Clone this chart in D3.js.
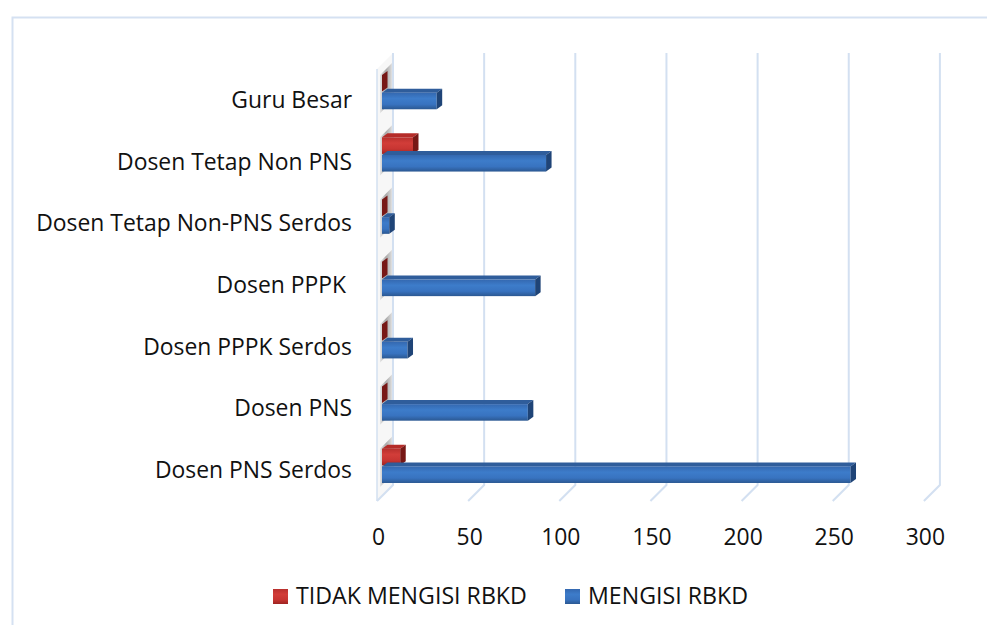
<!DOCTYPE html>
<html>
<head>
<meta charset="utf-8">
<script src="https://cdn.jsdelivr.net/npm/d3@7"></script>
<style>
    body { margin: 0; background: #fff; }
    text { font-family: "Open Sans", "Noto Sans", sans-serif; fill: #111; white-space: pre; }
</style>
</head>
<body>
<div id="chart"></div>
<script>
// categories top -> bottom as shown
var categories = ["Guru Besar", "Dosen Tetap Non PNS", "Dosen Tetap Non-PNS Serdos",
    "Dosen PPPK ", "Dosen PPPK Serdos", "Dosen PNS", "Dosen PNS Serdos"];
var seriesNames = ["TIDAK MENGISI RBKD", "MENGISI RBKD"];
var tidakMengisi = [0, 17, 0, 0, 0, 0, 10];
var mengisi = [30, 90, 4, 84, 14, 80, 257];
var xTicks = [0, 50, 100, 150, 200, 250, 300];

var W = 987, H = 625;

var svg = d3.select("#chart").append("svg")
    .attr("width", W)
    .attr("height", H);

var depth = 16,       // wall depth (front -> back)
    barD = 5,         // bar plane offset from front
    capX = 5.5, capY = 4,
    topY = 53, floorY = 501;

// front plane x scale
var x = d3.scaleLinear().domain([0, 300]).range([377, 377 + 300 * 1.823]);

var y0 = d3.scaleBand().domain(categories).range([61, 497])
    .paddingInner(0.45).paddingOuter(0.225);
var y1 = d3.scaleBand().domain(seriesNames).range([0, y0.bandwidth()]).paddingInner(0.06);
var yLab = d3.scaleBand().domain(categories).range([topY + depth, floorY]);

var defs = svg.append("defs");

function vGrad(id, stops) {
    var g = defs.append("linearGradient").attr("id", id)
        .attr("x1", 0).attr("y1", 0).attr("x2", 0).attr("y2", 1);
    stops.forEach(function (s) {
        g.append("stop").attr("offset", s[0]).attr("stop-color", s[1]);
    });
}
vGrad("blueFront", [[0, "#3468b0"], [0.35, "#3d7cca"], [0.7, "#3873c0"], [1, "#2b5892"]]);
vGrad("redFront", [[0, "#b8302d"], [0.35, "#d23d39"], [0.7, "#c73532"], [1, "#9e2321"]]);

var wallG = defs.append("linearGradient").attr("id", "wallShade")
    .attr("x1", 0).attr("y1", 0).attr("x2", 1).attr("y2", 0);
wallG.append("stop").attr("offset", 0).attr("stop-color", "#e6e6e6");
wallG.append("stop").attr("offset", 0.45).attr("stop-color", "#a9a9a9");
wallG.append("stop").attr("offset", 0.8).attr("stop-color", "#cfcfcf");
wallG.append("stop").attr("offset", 1).attr("stop-color", "#eeeeee");

var colors = {
    "TIDAK MENGISI RBKD": { front: "url(#redFront)", top: "#b52c29", end: "#771816", legend: "url(#redFront)" },
    "MENGISI RBKD": { front: "url(#blueFront)", top: "#2f5d9b", end: "#1f4477", legend: "url(#blueFront)" }
};

// chart border
svg.append("rect")
    .attr("x", 12.5).attr("y", 17.5)
    .attr("width", W).attr("height", H)
    .attr("fill", "none")
    .attr("stroke", "#d5e1f2")
    .attr("stroke-width", 2);

var grid = "#d3e0f1";

// left wall shading, one slanted band per category
var wall = svg.append("g");
wall.append("path")
    .attr("d", "M" + x(0) + "," + (topY + depth) + "L" + (x(0) + depth) + "," + topY +
        "L" + (x(0) + depth) + "," + (floorY - depth) + "L" + x(0) + "," + floorY + "Z")
    .attr("fill", "#f7f7f7");

categories.forEach(function (c) {
    var a = y0(c) + barD - 2, b = y0(c) + y0.bandwidth() + barD + 2;
    wall.append("path")
        .attr("d", "M" + (x(0) + 3) + "," + (b - 3) + "L" + (x(0) + 3) + "," + (a - 3) +
            "L" + (x(0) + depth) + "," + (a - depth) + "L" + (x(0) + depth) + "," + (b - depth) + "Z")
        .attr("fill", "url(#wallShade)");
});

// wall front edge
svg.append("line")
    .attr("x1", x(0)).attr("x2", x(0))
    .attr("y1", topY + depth).attr("y2", floorY)
    .attr("stroke", grid).attr("stroke-width", 1.5);

// gridlines on back wall + floor
svg.append("g").selectAll("path")
    .data(xTicks)
    .enter().append("path")
    .attr("d", function (d) {
        var xb = x(d) + depth;
        return "M" + xb + "," + topY + "L" + xb + "," + (floorY - depth) + "L" + x(d) + "," + floorY;
    })
    .attr("fill", "none")
    .attr("stroke", grid)
    .attr("stroke-width", 2);

// bars
var bars = [];
categories.forEach(function (c, i) {
    bars.push({ cat: c, s: seriesNames[0], v: tidakMengisi[i] });
    bars.push({ cat: c, s: seriesNames[1], v: mengisi[i] });
});

var barG = svg.append("g");
bars.forEach(function (d) {
    var x0 = x(0) + barD, x1 = x(d.v) + barD;
    var t = y0(d.cat) + y1(d.s), b = t + y1.bandwidth();
    var col = colors[d.s];
    var g = barG.append("g");
    g.append("path")
        .attr("d", "M" + x0 + "," + t + "L" + x1 + "," + t + "L" + (x1 + capX) + "," + (t - capY) +
            "L" + (x0 + capX) + "," + (t - capY) + "Z")
        .attr("fill", col.top);
    g.append("rect")
        .attr("x", x0).attr("y", t)
        .attr("width", x1 - x0).attr("height", b - t)
        .attr("fill", col.front);
    g.append("path")
        .attr("d", "M" + x1 + "," + t + "L" + (x1 + capX) + "," + (t - capY) + "L" + (x1 + capX) + "," + (b - capY) +
            "L" + x1 + "," + b + "Z")
        .attr("fill", col.end);
});

// category labels
var labs = svg.append("g").selectAll("text")
    .data(categories)
    .enter().append("text")
    .attr("x", 352)
    .attr("y", function (d) { return yLab(d) + yLab.bandwidth() / 2; })
    .attr("dy", "0.35em")
    .attr("text-anchor", "end")
    .style("font-size", "20px")
    .text(function (d) { return d; });

// fit label size to the reference width of the longest label
var longest = labs.filter(function (d) { return d == "Dosen Tetap Non-PNS Serdos"; }).node();
var labSize = 20 * 316 / longest.getComputedTextLength();
labs.style("font-size", labSize + "px");

// value axis labels
svg.append("g").selectAll("text")
    .data(xTicks)
    .enter().append("text")
    .attr("x", function (d) { return x(d) + 1.5; })
    .attr("y", 537)
    .attr("dy", "0.35em")
    .attr("text-anchor", "middle")
    .style("font-size", labSize + "px")
    .text(function (d) { return d; });

// legend
var legX = [273, 565];
var leg = svg.append("g").selectAll("g")
    .data(seriesNames)
    .enter().append("g")
    .attr("transform", function (d, i) { return "translate(" + legX[i] + ",589)"; });

leg.append("rect")
    .attr("width", 15).attr("height", 15)
    .attr("fill", function (d) { return colors[d].legend; });

var legText = leg.append("text")
    .attr("x", 23)
    .attr("y", 15)
    .style("font-size", "20px")
    .text(function (d) { return d; });

var legSize = 20 * 231 / legText.node().getComputedTextLength();
legText.style("font-size", legSize + "px");
</script>
</body>
</html>
